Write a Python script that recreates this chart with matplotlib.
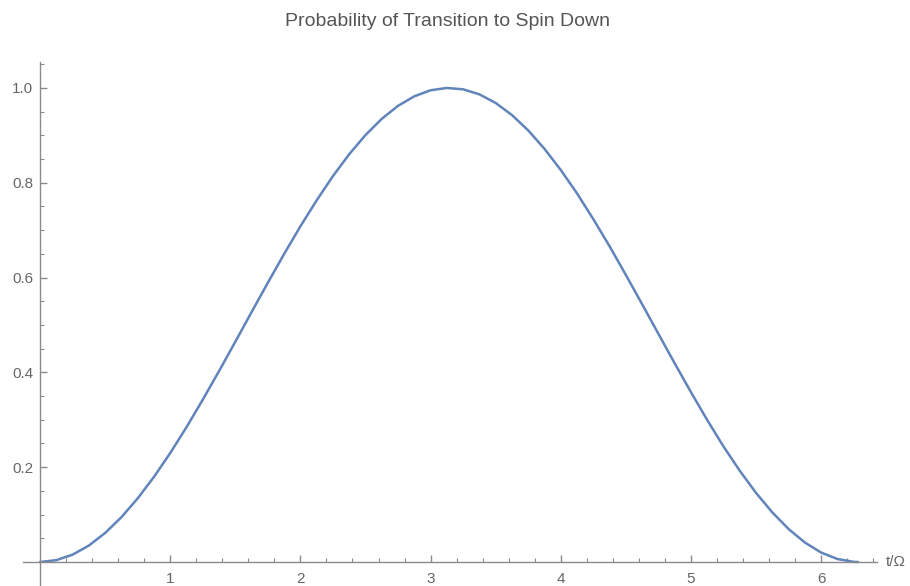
import numpy as np
import matplotlib
matplotlib.use("Agg")
import matplotlib.pyplot as plt
from matplotlib.ticker import FixedLocator

plt.rcParams['font.family'] = ['Liberation Sans', 'DejaVu Sans']

# values
t_vals = [0.0, 0.125, 0.25, 0.375, 0.5, 0.625, 0.75, 0.875, 1.0, 1.125, 1.25, 1.375,
          1.5, 1.625, 1.75, 1.875, 2.0, 2.125, 2.25, 2.375, 2.5, 2.625, 2.75, 2.875,
          3.0, 3.125, 3.25, 3.375, 3.5, 3.625, 3.75, 3.875, 4.0, 4.125, 4.25, 4.375,
          4.5, 4.625, 4.75, 4.875, 5.0, 5.125, 5.25, 5.375, 5.5, 5.625, 5.75, 5.875,
          6.0, 6.125, 6.25, 6.283]
p_vals = [0.0, 0.0039, 0.0155, 0.0347, 0.0612, 0.0945, 0.1342, 0.1795, 0.2298, 0.2844,
          0.3424, 0.4027, 0.4646, 0.5272, 0.5891, 0.6498, 0.7081, 0.7629, 0.8141, 0.8602,
          0.9006, 0.9348, 0.9622, 0.9823, 0.9950, 0.9999, 0.9970, 0.9864, 0.9682, 0.9427,
          0.9103, 0.8714, 0.8268, 0.7774, 0.7231, 0.6658, 0.6054, 0.5437, 0.4812, 0.4190,
          0.3582, 0.2993, 0.2436, 0.1924, 0.1456, 0.1045, 0.0695, 0.0411, 0.0199, 0.0063,
          0.0003, 0.0]

x_major = [1, 2, 3, 4, 5, 6]
x_labels = ["1", "2", "3", "4", "5", "6"]
y_major = [0.2, 0.4, 0.6, 0.8, 1.0]
y_labels = ["0.2", "0.4", "0.6", "0.8", "1.0"]

title = "Probability of Transition to Spin Down"
xlabel = "t/\u03a9"

fig = plt.figure(figsize=(9.1, 5.86), dpi=100)
ax = fig.add_axes([0.0254, 0.0005, 0.9385, 0.894])
ax.plot(t_vals, p_vals, color="#6184BA", lw=1.8, solid_capstyle="round", solid_joinstyle="round")

ax.set_xlim(-0.13, 6.43)
ax.set_ylim(-0.05, 1.055)

axis_color = "#8a8a8a"
for s in ["top", "right"]:
    ax.spines[s].set_visible(False)
ax.spines["left"].set_position(("data", 0))
ax.spines["bottom"].set_position(("data", 0))
for s in ["left", "bottom"]:
    ax.spines[s].set_color(axis_color)
    ax.spines[s].set_linewidth(1.0)

ax.xaxis.set_major_locator(FixedLocator(x_major))
ax.set_xticklabels(x_labels)
ax.xaxis.set_minor_locator(FixedLocator([v for v in np.arange(0.2, 6.45, 0.2) if abs(v - round(v)) > 1e-6]))
ax.yaxis.set_major_locator(FixedLocator(y_major))
ax.set_yticklabels(y_labels)
ax.yaxis.set_minor_locator(FixedLocator([v for v in np.arange(0.05, 1.06, 0.05) if abs(v * 5 - round(v * 5)) > 1e-6]))

ax.tick_params(axis="both", which="both", direction="in", color=axis_color, labelcolor="#666666", labelsize=11)
ax.tick_params(axis="both", which="major", length=5, width=1.0)
ax.tick_params(axis="both", which="minor", length=3, width=0.8)
ax.tick_params(axis="x", which="major", pad=7)
ax.tick_params(axis="y", which="major", pad=5)

ax.text(6.5, 0, xlabel, color="#666666", fontsize=11, va="center", ha="left", clip_on=False)
fig.text(0.492, 0.963, title, color="#555555", fontsize=14, ha="center", va="center")

fig.savefig("out.png", dpi=100)
